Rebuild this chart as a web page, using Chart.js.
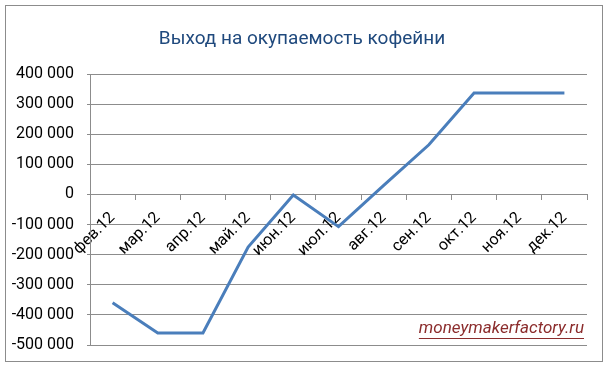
<!DOCTYPE html>
<html>
<head>
<meta charset="utf-8">
<script src="https://cdn.jsdelivr.net/npm/chart.js@4/dist/chart.umd.min.js"></script>
<style>
    html, body { margin: 0; padding: 0; background: #fff; }
    #wrap { position: relative; width: 609px; height: 369px; }
    #frame { position: absolute; left: 5px; top: 5px; width: 596px; height: 355px; border: 1px solid #8c8c8c; pointer-events: none; }
</style>
</head>
<body>
<div id="wrap">
    <canvas id="chart" width="609" height="369"></canvas>
    <div id="frame"></div>
</div>
<script>
var months = ["фев.12", "мар.12", "апр.12", "май.12", "июн.12", "июл.12", "авг.12", "сен.12", "окт.12", "ноя.12", "дек.12"];
var balance = [-360000, -460000, -460000, -175000, -2000, -107000, 30000, 165000, 337000, 337000, 337000];
var chartTitle = "Выход на окупаемость кофейни";
var watermark = "moneymakerfactory.ru";

function formatThousands(v) {
    var s = Math.abs(v).toString().replace(/\B(?=(\d{3})+(?!\d))/g, " ");
    return (v < 0 ? "-" : "") + s;
}

// title and site name drawn by hand so they sit where Excel put them
var textPlugin = {
    id: "texts",
    afterDraw: function(chart) {
        var ctx = chart.ctx;
        ctx.save();
        ctx.font = "19px Roboto";
        ctx.fillStyle = "#1f497d";
        ctx.textAlign = "center";
        ctx.textBaseline = "alphabetic";
        ctx.fillText(chartTitle, 302, 44);

        ctx.font = "italic 17px Roboto";
        ctx.fillStyle = "#8b2c2c";
        ctx.textAlign = "right";
        var right = 584, base = 333;
        ctx.fillText(watermark, right, base);
        var w = ctx.measureText(watermark).width;
        ctx.strokeStyle = "#8b2c2c";
        ctx.lineWidth = 1;
        ctx.beginPath();
        ctx.moveTo(right - w, base + 5.5);
        ctx.lineTo(right, base + 5.5);
        ctx.stroke();
        ctx.restore();
    }
};

new Chart(document.getElementById("chart"), {
    type: "line",
    data: {
        labels: months,
        datasets: [{
            data: balance,
            borderColor: "#4a7ebb",
            borderWidth: 3,
            pointRadius: 0,
            tension: 0,
            fill: false
        }]
    },
    options: {
        responsive: false,
        animation: false,
        layout: { padding: { left: 0, right: 22, top: 74, bottom: 24 } },
        plugins: {
            legend: { display: false },
            tooltip: { enabled: false },
            title: { display: false }
        },
        scales: {
            x: {
                position: { y: 0 },
                offset: true,
                border: { display: true, color: "#8c8c8c", width: 1 },
                grid: { offset: true, drawOnChartArea: false, drawTicks: true, tickLength: 5, color: "#8c8c8c" },
                ticks: {
                    color: "#000",
                    font: { family: "Roboto", size: 16 },
                    minRotation: 45,
                    maxRotation: 45,
                    padding: 9,
                    autoSkip: false
                }
            },
            y: {
                min: -500000,
                max: 400000,
                border: { display: true, color: "#8c8c8c", width: 1 },
                grid: { color: "#8c8c8c", drawTicks: true, tickLength: 3 },
                ticks: {
                    stepSize: 100000,
                    color: "#000",
                    font: { family: "Roboto", size: 16 },
                    padding: 13,
                    callback: function(v) { return formatThousands(v); }
                },
                afterFit: function(scale) { scale.width = 90; }
            }
        }
    },
    plugins: [textPlugin]
});
</script>
</body>
</html>
